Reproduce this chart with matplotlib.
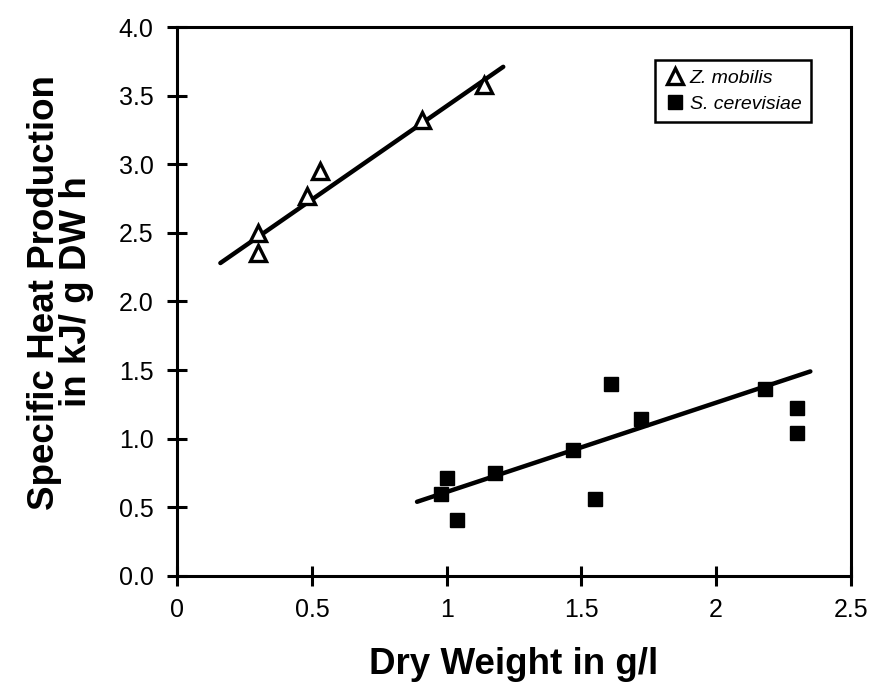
import matplotlib
matplotlib.use("Agg")
import matplotlib.pyplot as plt

plt.rcParams["font.family"] = ["Liberation Sans", "DejaVu Sans"]

# Z. mobilis (open triangles)
zm_x = [0.30, 0.30, 0.48, 0.53, 0.91, 1.14]
zm_y = [2.50, 2.35, 2.77, 2.95, 3.32, 3.58]
zm_fit_x = [0.16, 1.21]
zm_fit_y = [2.28, 3.71]

# S. cerevisiae (filled squares)
sc_x = [0.98, 1.00, 1.04, 1.18, 1.47, 1.55, 1.61, 1.72, 2.18, 2.30, 2.30]
sc_y = [0.60, 0.71, 0.41, 0.75, 0.92, 0.56, 1.40, 1.14, 1.36, 1.22, 1.04]
sc_fit_x = [0.89, 2.35]
sc_fit_y = [0.54, 1.49]

xticks = [0, 0.5, 1, 1.5, 2, 2.5]
xticklabels = ["0", "0.5", "1", "1.5", "2", "2.5"]
yticks = [0.0, 0.5, 1.0, 1.5, 2.0, 2.5, 3.0, 3.5, 4.0]

fig = plt.figure(figsize=(8.69, 6.93), dpi=100)
ax = fig.add_axes([0.204, 0.169, 0.775, 0.792])

ax.plot(zm_fit_x, zm_fit_y, color="black", lw=3.2, solid_capstyle="round")
ax.plot(sc_fit_x, sc_fit_y, color="black", lw=3.2, solid_capstyle="round")
ax.plot(zm_x, zm_y, linestyle="none", marker="^", markersize=11,
        markerfacecolor="white", markeredgecolor="black", markeredgewidth=2.4,
        label="Z. mobilis")
ax.plot(sc_x, sc_y, linestyle="none", marker="s", markersize=10,
        color="black", label="S. cerevisiae")

ax.set_xlim(0, 2.5)
ax.set_ylim(0, 4.0)
ax.set_xticks(xticks)
ax.set_xticklabels(xticklabels)
ax.set_yticks(yticks)
ax.set_yticklabels([f"{v:.1f}" for v in yticks])
ax.tick_params(direction="inout", length=14, width=2.2, labelsize=18,
               top=False, right=False)
ax.tick_params(axis="y", pad=10)
ax.tick_params(axis="x", pad=9)
for s in ax.spines.values():
    s.set_linewidth(2.2)

ax.set_xlabel("Dry Weight in g/l", fontsize=26.5, fontweight="bold", labelpad=18)
ax.set_ylabel("Specific Heat Production\nin kJ/ g DW h", fontsize=26.5,
              fontweight="bold", labelpad=18, linespacing=0.88)
ax.yaxis.label.set_y(0.517)

leg = ax.legend(loc="upper right", bbox_to_anchor=(0.941, 0.94), fancybox=False,
                edgecolor="black", framealpha=1, prop={"style": "italic", "size": 14},
                handletextpad=0.2, handlelength=1.1, borderpad=0.5, labelspacing=0.4,
                borderaxespad=0)
leg.get_frame().set_linewidth(1.8)

fig.savefig("out.png", dpi=100)
